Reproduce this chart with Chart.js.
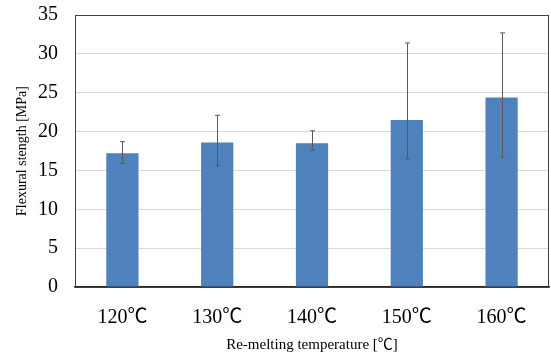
<!DOCTYPE html>
<html>
<head>
<meta charset="utf-8">
<script src="https://cdn.jsdelivr.net/npm/chart.js@4/dist/chart.umd.min.js"></script>
<style>
  html, body { margin: 0; padding: 0; background: #fff; }
  #wrap { width: 551px; height: 354px; }
</style>
</head>
<body>
<div id="wrap"><canvas id="chart" width="551" height="354"></canvas></div>
<script>
const categories = ["120℃", "130℃", "140℃", "150℃", "160℃"];
const strength = [17.2, 18.6, 18.5, 21.5, 24.4];
const errPlus = [1.5, 3.5, 1.6, 9.9, 8.3];
const errMinus = [1.3, 3.0, 0.9, 5.0, 7.7];
const yTicks = [0, 5, 10, 15, 20, 25, 30, 35];

const FONT = "'Liberation Serif', 'Noto Sans CJK JP', serif";

// error bars + plot frame, drawn on the library's scales
const extras = {
  id: "extras",
  afterDatasetsDraw(chart) {
    const { ctx, chartArea: a, scales } = chart;
    const meta = chart.getDatasetMeta(0);
    ctx.save();
    ctx.strokeStyle = "#595959";
    ctx.lineWidth = 1;
    meta.data.forEach((bar, i) => {
      const x = Math.round(bar.x) + 0.5;
      const yTop = scales.y.getPixelForValue(strength[i] + errPlus[i]);
      const yBot = scales.y.getPixelForValue(strength[i] - errMinus[i]);
      ctx.beginPath();
      ctx.moveTo(x, yTop);
      ctx.lineTo(x, yBot);
      ctx.moveTo(x - 2.5, yTop);
      ctx.lineTo(x + 2.5, yTop);
      ctx.moveTo(x - 2.5, yBot);
      ctx.lineTo(x + 2.5, yBot);
      ctx.stroke();
    });
    ctx.strokeStyle = "#404040";
    ctx.strokeRect(a.left + 0.5, a.top + 0.5, a.right - a.left - 1, a.bottom - a.top);
    ctx.restore();
  }
};

new Chart(document.getElementById("chart"), {
  type: "bar",
  data: {
    labels: categories,
    datasets: [{
      data: strength,
      backgroundColor: "#4F81BD",
      borderWidth: 0,
      categoryPercentage: 1,
      barPercentage: 0.34
    }]
  },
  options: {
    responsive: false,
    animation: false,
    layout: { padding: { top: 15, right: 2, left: 0, bottom: 0 } },
    plugins: { legend: { display: false }, tooltip: { enabled: false } },
    scales: {
      x: {
        grid: { display: false },
        border: { display: true, color: "#262626", width: 1.5 },
        ticks: { color: "#000", font: { family: FONT, size: 20 }, padding: 11 },
        title: {
          display: true,
          text: "Re-melting temperature [℃]",
          color: "#000",
          font: { family: FONT, size: 15 },
          padding: { top: 4, bottom: 0 }
        },
        afterFit(scale) { scale.height = 67; scale.paddingLeft = 0; scale.paddingRight = 0; }
      },
      y: {
        min: 0,
        max: 35,
        afterBuildTicks(scale) { scale.ticks = yTicks.map((v) => ({ value: v })); },
        grid: { color: "#D9D9D9", lineWidth: 1, drawTicks: false },
        border: { display: false },
        ticks: { color: "#000", font: { family: FONT, size: 20 }, padding: 17 },
        title: {
          display: true,
          text: "Flexural stength [MPa]",
          color: "#000",
          font: { family: FONT, size: 14 },
          padding: { top: 14, bottom: 4 }
        },
        afterFit(scale) { scale.width = 75; scale.paddingTop = 0; scale.paddingBottom = 0; }
      }
    }
  },
  plugins: [extras]
});
</script>
</body>
</html>
